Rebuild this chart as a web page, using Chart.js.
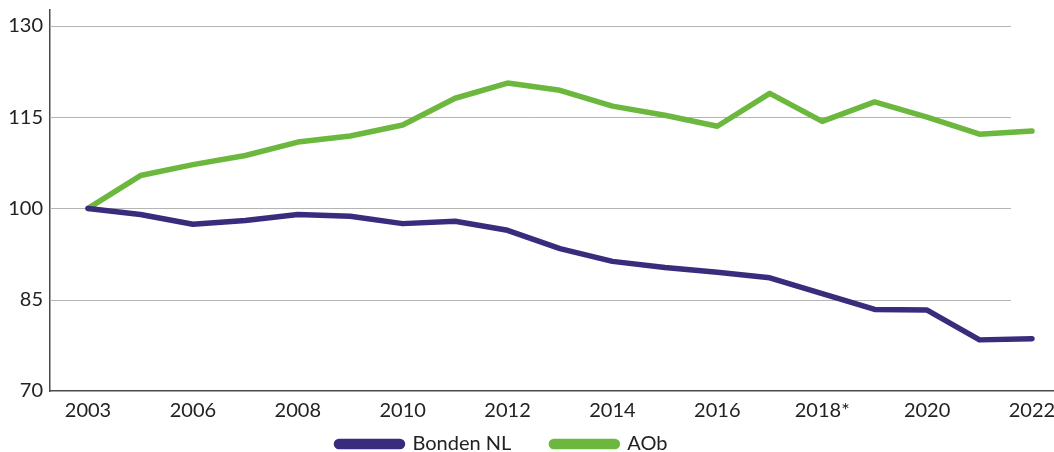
<!DOCTYPE html>
<html>
<head>
<meta charset="utf-8">
<script src="https://cdn.jsdelivr.net/npm/chart.js@4"></script>
<style>
  html, body { margin: 0; padding: 0; background: #fff; }
  #wrap { width: 1054px; height: 452px; position: relative; }
</style>
</head>
<body>
<div id="wrap"><canvas id="chart"></canvas></div>
<script>
const years = ["2003", "2005", "2006", "2007", "2008", "2009", "2010", "2011", "2012", "2013",
  "2014", "2015", "2016", "2017", "2018*", "2019", "2020", "2021", "2022"]
const shownYears = ["2003", "2006", "2008", "2010", "2012", "2014", "2016", "2018*", "2020", "2022"]
const bondenNL = [100, 99.0, 97.4, 98.0, 99.0, 98.7, 97.5, 97.9, 96.4, 93.4,
  91.3, 90.3, 89.5, 88.6, 86.0, 83.4, 83.3, 78.4, 78.6]
const aob = [100, 105.4, 107.2, 108.7, 110.9, 111.9, 113.7, 118.1, 120.6, 119.4,
  116.8, 115.3, 113.5, 118.9, 114.3, 117.5, 115.0, 112.2, 112.7]
const yTicks = [70, 85, 100, 115, 130]

const purple = "#382c7c"
const green = "#6cb83f"
const font = { family: "Lato, 'Open Sans', sans-serif", size: 20 }

const toPoints = arr => arr.map((v, i) => ({ x: i, y: v }))

// gridlines stop short of the right edge, like the original
const gridPlugin = {
  id: "shortGrid",
  beforeDatasetsDraw(chart) {
    const { ctx, chartArea, scales: { x, y } } = chart
    const right = x.getPixelForValue(17.6)
    ctx.save()
    ctx.strokeStyle = "#b4b4b4"
    ctx.lineWidth = 1
    yTicks.slice(1).forEach(v => {
      const py = Math.round(y.getPixelForValue(v)) + 0.5
      ctx.beginPath()
      ctx.moveTo(chartArea.left, py)
      ctx.lineTo(right, py)
      ctx.stroke()
    })
    ctx.restore()
  },
  afterLayout(chart) {
    // legend box is kept short so the plot gets the height; move it up
    const lg = chart.legend
    lg.left -= 25
    lg.right -= 25
    lg.top -= 37
    lg.bottom = chart.height
  }
}

new Chart(document.getElementById("chart"), {
  type: "line",
  data: {
    datasets: [
      { label: "Bonden NL", data: toPoints(bondenNL), borderColor: purple, backgroundColor: purple },
      { label: "AOb", data: toPoints(aob), borderColor: green, backgroundColor: green }
    ]
  },
  options: {
    responsive: true,
    maintainAspectRatio: false,
    animation: false,
    layout: { padding: { top: 10, right: 0, left: 0, bottom: 0 } },
    elements: {
      line: { borderWidth: 5.5, tension: 0, borderCapStyle: "round", borderJoinStyle: "round" },
      point: { radius: 0 }
    },
    scales: {
      x: {
        type: "linear",
        min: -0.725,
        max: 18.42,
        afterBuildTicks: s => { s.ticks = years.map((y, i) => ({ value: i })) },
        afterFit: s => { s.paddingLeft = 0; s.paddingRight = 0 },
        grid: { display: false, drawTicks: false },
        border: { color: "#4a4a4a", width: 1.5 },
        ticks: {
          autoSkip: false,
          maxRotation: 0,
          padding: 8,
          color: "#222",
          font,
          callback: v => shownYears.includes(years[v]) ? years[v] : ""
        }
      },
      y: {
        min: 70,
        max: 132.6,
        afterBuildTicks: s => { s.ticks = yTicks.map(v => ({ value: v })) },
        afterFit: s => { s.width = 50; s.paddingTop = 0; s.paddingBottom = 0 },
        grid: { display: false, drawTicks: false },
        border: { color: "#4a4a4a", width: 1.5 },
        ticks: {
          padding: 7,
          color: "#222",
          font
        }
      }
    },
    plugins: {
      legend: {
        position: "bottom",
        maxHeight: 21,
        labels: {
          boxWidth: 66,
          boxHeight: 5,
          useBorderRadius: true,
          borderRadius: 2.5,
          padding: 40,
          color: "#222",
          font
        }
      },
      tooltip: { enabled: false }
    }
  },
  plugins: [gridPlugin]
})
</script>
</body>
</html>
